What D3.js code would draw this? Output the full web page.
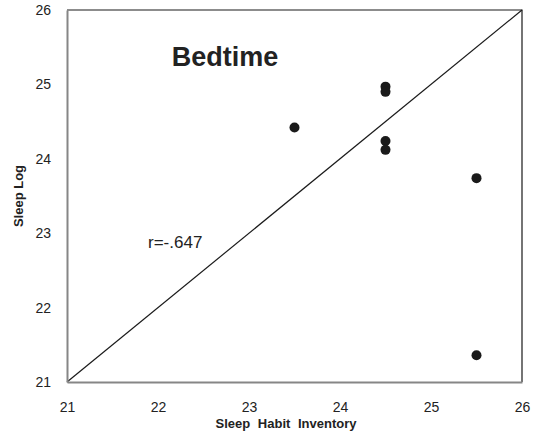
<!DOCTYPE html>
<html>
<head>
<meta charset="utf-8">
<script src="https://cdn.jsdelivr.net/npm/d3@7"></script>
<style>
  html, body { margin: 0; padding: 0; background: #fff; }
  svg { display: block; }
  text { font-family: "Liberation Sans", Arial, sans-serif; fill: #222; }
</style>
</head>
<body>
<svg id="chart" width="540" height="443"></svg>
<script>
const sleepHabitInventory = [23.5, 24.5, 24.5, 24.5, 24.5, 25.5, 25.5];
const sleepLog = [24.42, 24.97, 24.90, 24.24, 24.12, 23.74, 21.36];
const tickValues = [21, 22, 23, 24, 25, 26];
const identityLine = [[21, 21], [26, 26]];
const title = "Bedtime";
const rLabel = "r=-.647";

const svg = d3.select("#chart");
const m = { left: 67, right: 522, top: 10, bottom: 382 };
const x = d3.scaleLinear().domain([21, 26]).range([m.left, m.right]);
const y = d3.scaleLinear().domain([21, 26]).range([m.bottom, m.top]);

// plot border (top/right)
svg.append("path")
  .attr("d", `M${m.left},${m.top}H${m.right}V${m.bottom}`)
  .attr("fill", "none").attr("stroke", "#1a1a1a").attr("stroke-width", 1.2);

// identity line
svg.append("path")
  .attr("d", d3.line().x(d => x(d[0])).y(d => y(d[1]))(identityLine))
  .attr("fill", "none").attr("stroke", "#1a1a1a").attr("stroke-width", 1.2);

// axes
const xAxis = d3.axisBottom(x).tickValues(tickValues).tickSize(0).tickPadding(20).tickFormat(d3.format("d"));
const gx = svg.append("g").attr("transform", `translate(0,${m.bottom})`).call(xAxis);
gx.select(".domain").attr("stroke", "#868686").attr("stroke-width", 2);
gx.selectAll("text").attr("font-size", 14).attr("fill", "#222")
  .attr("font-family", "'Liberation Sans', Arial, sans-serif");

const yAxis = d3.axisLeft(y).tickValues(tickValues).tickSize(0).tickPadding(16).tickFormat(d3.format("d"));
const gy = svg.append("g").attr("transform", `translate(${m.left},0)`).call(yAxis);
gy.select(".domain").attr("stroke", "#868686").attr("stroke-width", 2);
gy.selectAll("text").attr("font-size", 14).attr("fill", "#222")
  .attr("font-family", "'Liberation Sans', Arial, sans-serif");

// points
svg.append("g").selectAll("circle")
  .data(sleepHabitInventory.map((v, i) => [v, sleepLog[i]]))
  .join("circle")
  .attr("cx", d => x(d[0])).attr("cy", d => y(d[1])).attr("r", 5)
  .attr("fill", "#1a1a1a");

// labels
svg.append("text").attr("x", 225).attr("y", 66).attr("text-anchor", "middle")
  .attr("font-size", 27).attr("font-weight", "bold").text(title);
svg.append("text").attr("x", 148).attr("y", 248).attr("font-size", 17).text(rLabel);

svg.append("text").attr("x", 286).attr("y", 428).attr("text-anchor", "middle")
  .attr("font-size", 13).attr("font-weight", "bold").attr("word-spacing", 4)
  .text("Sleep Habit Inventory");
svg.append("text").attr("transform", "translate(23,196) rotate(-90)")
  .attr("text-anchor", "middle").attr("font-size", 13).attr("font-weight", "bold")
  .text("Sleep Log");
</script>
</body>
</html>
